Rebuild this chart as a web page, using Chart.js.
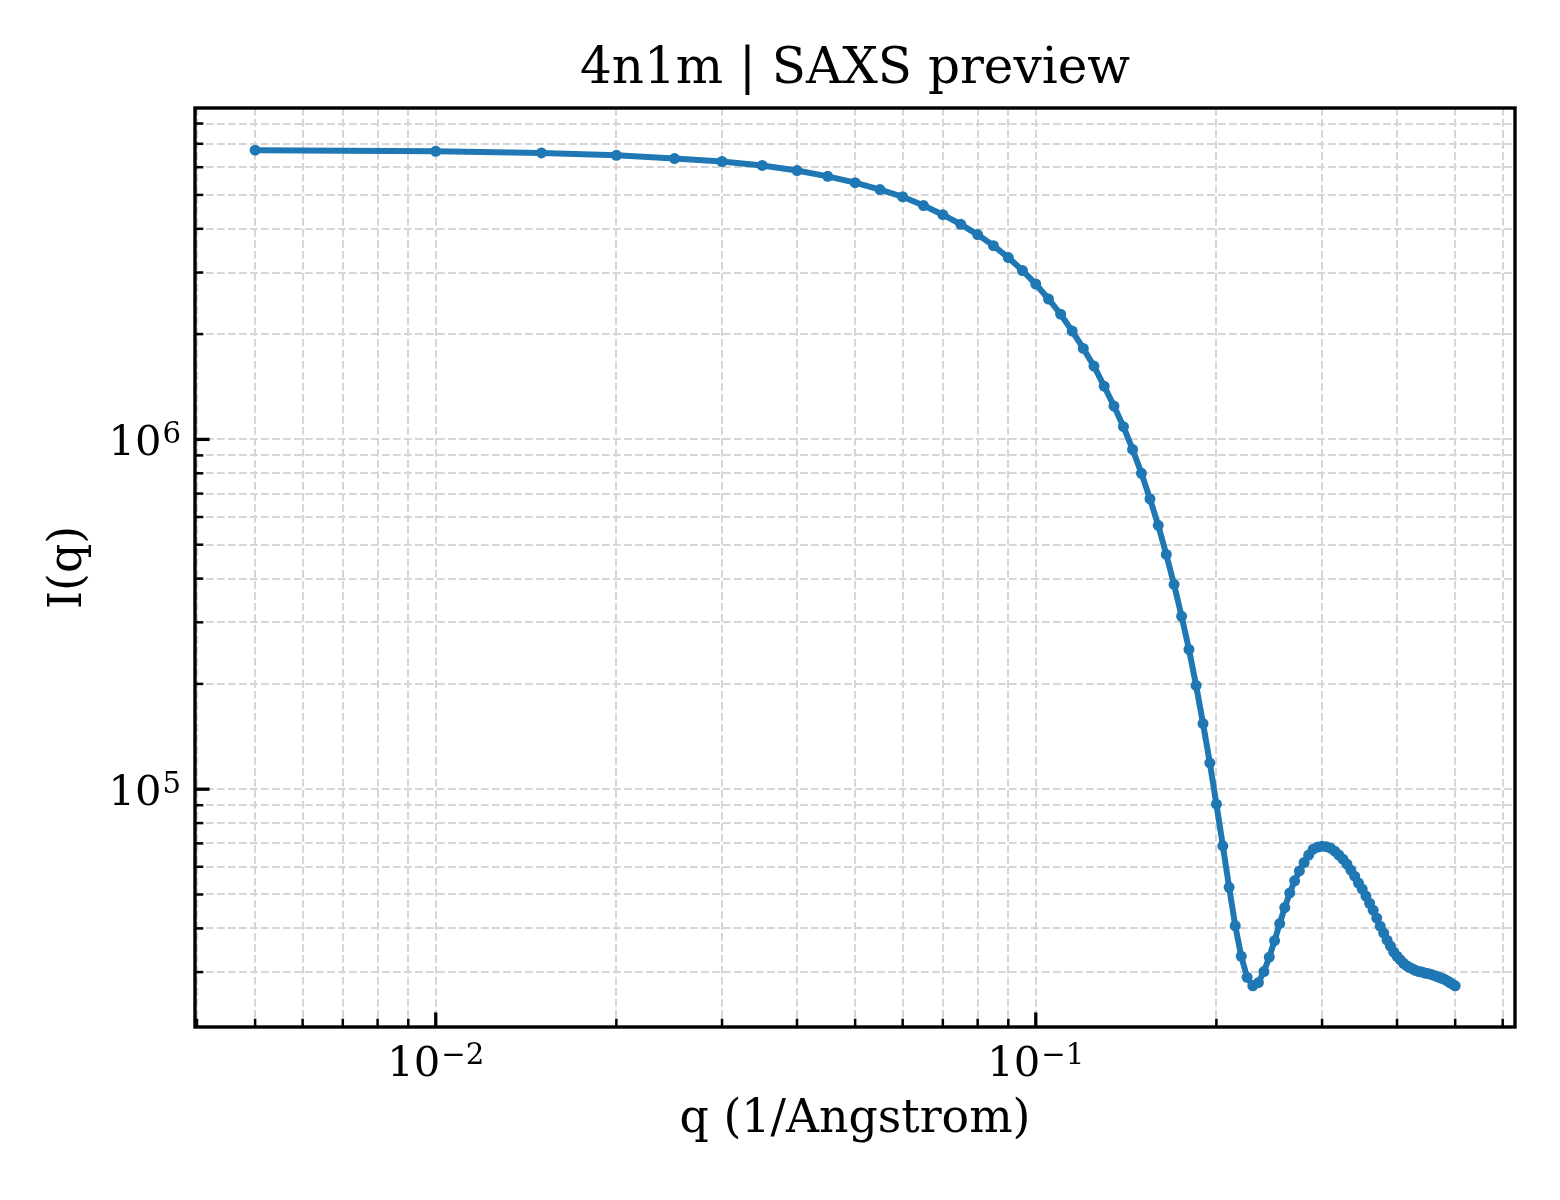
<!DOCTYPE html>
<html>
<head>
<meta charset="utf-8">
<script src="https://cdn.jsdelivr.net/npm/chart.js@4.4.1/dist/chart.umd.min.js"></script>
<style>
  html, body { margin: 0; padding: 0; background: #fff; }
  canvas { display: block; }
</style>
</head>
<body>
<canvas id="saxs" width="1560" height="1200"></canvas>
<script>
// q (1/Angstrom) sampled every 0.005
const qValues = [
  0.005, 0.010, 0.015, 0.020, 0.025, 0.030, 0.035, 0.040, 0.045, 0.050,
  0.055, 0.060, 0.065, 0.070, 0.075, 0.080, 0.085, 0.090, 0.095, 0.100,
  0.105, 0.110, 0.115, 0.120, 0.125, 0.130, 0.135, 0.140, 0.145, 0.150,
  0.155, 0.160, 0.165, 0.170, 0.175, 0.180, 0.185, 0.190, 0.195, 0.200,
  0.205, 0.210, 0.215, 0.220, 0.225, 0.230, 0.235, 0.240, 0.245, 0.250,
  0.255, 0.260, 0.265, 0.270, 0.275, 0.280, 0.285, 0.290, 0.295, 0.300,
  0.305, 0.310, 0.315, 0.320, 0.325, 0.330, 0.335, 0.340, 0.345, 0.350,
  0.355, 0.360, 0.365, 0.370, 0.375, 0.380, 0.385, 0.390, 0.395, 0.400,
  0.405, 0.410, 0.415, 0.420, 0.425, 0.430, 0.435, 0.440, 0.445, 0.450,
  0.455, 0.460, 0.465, 0.470, 0.475, 0.480, 0.485, 0.490, 0.495, 0.500
];

// I(q)
const intensity = [
  6.71e6, 6.66e6, 6.59e6, 6.49e6, 6.35e6, 6.23e6, 6.07e6, 5.87e6, 5.65e6, 5.42e6,
  5.18e6, 4.94e6, 4.66e6, 4.39e6, 4.12e6, 3.85e6, 3.58e6, 3.31e6, 3.04e6, 2.78e6,
  2.52e6, 2.28e6, 2.04e6, 1.82e6, 1.62e6, 1.42e6, 1.245e6, 1.087e6, 9.36e5, 8.00e5,
  6.76e5, 5.68e5, 4.69e5, 3.85e5, 3.12e5, 2.51e5, 1.98e5, 1.54e5, 1.19e5, 9.06e4,
  6.89e4, 5.24e4, 4.07e4, 3.33e4, 2.90e4, 2.74e4, 2.80e4, 3.01e4, 3.31e4, 3.69e4,
  4.13e4, 4.59e4, 5.05e4, 5.47e4, 5.84e4, 6.17e4, 6.48e4, 6.74e4, 6.83e4, 6.87e4,
  6.85e4, 6.78e4, 6.65e4, 6.48e4, 6.31e4, 6.11e4, 5.87e4, 5.64e4, 5.39e4, 5.18e4,
  4.95e4, 4.72e4, 4.51e4, 4.28e4, 4.06e4, 3.88e4, 3.70e4, 3.56e4, 3.42e4, 3.33e4,
  3.25e4, 3.18e4, 3.13e4, 3.09e4, 3.06e4, 3.03e4, 3.01e4, 3.00e4, 2.98e4, 2.97e4,
  2.96e4, 2.94e4, 2.92e4, 2.90e4, 2.88e4, 2.86e4, 2.83e4, 2.80e4, 2.77e4, 2.74e4
];

// tick positions; decade labels are base + exponent
const xTickValues = [0.004, 0.005, 0.006, 0.007, 0.008, 0.009,
  0.01, 0.02, 0.03, 0.04, 0.05, 0.06, 0.07, 0.08, 0.09,
  0.1, 0.2, 0.3, 0.4, 0.5, 0.6];
const xMajorTicks = [0.01, 0.1];
const xMajorExponents = ["−2", "−1"];

const yTickValues = [3e4, 4e4, 5e4, 6e4, 7e4, 8e4, 9e4,
  1e5, 2e5, 3e5, 4e5, 5e5, 6e5, 7e5, 8e5, 9e5,
  1e6, 2e6, 3e6, 4e6, 5e6, 6e6, 7e6, 8e6];
const yMajorTicks = [1e5, 1e6];
const yMajorExponents = ["5", "6"];

const titleText = "4n1m | SAXS preview";

const serif = "'DejaVu Serif', 'Liberation Serif', serif";
const lineBlue = "#1f77b4";

function setTicks(values, majors) {
  return scale => {
    scale.ticks = values.map(v => ({ value: v, major: majors.includes(v) }));
  };
}

// "10" with a raised exponent, like matplotlib mathtext
function drawPower(ctx, exp, xPos, baseline, align) {
  ctx.font = "41.7px " + serif;
  const wBase = ctx.measureText("10").width;
  ctx.font = "29.2px " + serif;
  const wExp = ctx.measureText(exp).width;
  const total = wBase + wExp + 1;
  let x0 = align === "right" ? xPos - total : xPos - total / 2;
  ctx.textAlign = "left";
  ctx.textBaseline = "alphabetic";
  ctx.font = "41.7px " + serif;
  ctx.fillText("10", x0, baseline);
  ctx.font = "29.2px " + serif;
  ctx.fillText(exp, x0 + wBase + 1, baseline - 12);
}

// matplotlib style: inward ticks on left/bottom, full box, title over the axes
const axesFrame = {
  id: "axesFrame",
  afterDraw(chart) {
    const { ctx, chartArea: a } = chart;
    const x = chart.scales.x, y = chart.scales.y;
    ctx.save();
    ctx.strokeStyle = "#000";
    ctx.fillStyle = "#000";
    x.ticks.forEach(t => {
      const px = x.getPixelForValue(t.value);
      ctx.lineWidth = t.major ? 3.3 : 2.5;
      ctx.beginPath();
      ctx.moveTo(px, a.bottom);
      ctx.lineTo(px, a.bottom - (t.major ? 14.6 : 8.3));
      ctx.stroke();
      const i = xMajorTicks.indexOf(t.value);
      if (i >= 0) drawPower(ctx, xMajorExponents[i], px, a.bottom + 49, "center");
    });
    y.ticks.forEach(t => {
      const py = y.getPixelForValue(t.value);
      ctx.lineWidth = t.major ? 3.3 : 2.5;
      ctx.beginPath();
      ctx.moveTo(a.left, py);
      ctx.lineTo(a.left + (t.major ? 14.6 : 8.3), py);
      ctx.stroke();
      const i = yMajorTicks.indexOf(t.value);
      if (i >= 0) drawPower(ctx, yMajorExponents[i], a.left - 14, py + 16, "right");
    });
    ctx.lineWidth = 3.4;
    ctx.strokeRect(a.left, a.top, a.right - a.left, a.bottom - a.top);

    ctx.font = "50px " + serif;
    ctx.textAlign = "center";
    ctx.textBaseline = "alphabetic";
    ctx.fillText(titleText, (a.left + a.right) / 2, 83);
    ctx.restore();
  }
};

const ctx = document.getElementById("saxs").getContext("2d");
new Chart(ctx, {
  type: "line",
  data: {
    datasets: [{
      data: qValues.map((q, i) => ({ x: q, y: intensity[i] })),
      borderColor: lineBlue,
      backgroundColor: lineBlue,
      borderWidth: 6,
      pointRadius: 5.5,
      pointBorderWidth: 0,
      pointBackgroundColor: lineBlue,
      tension: 0,
      fill: false
    }]
  },
  options: {
    responsive: false,
    devicePixelRatio: 1,
    animation: false,
    layout: { padding: { left: 0, right: 45, top: 108, bottom: 0 } },
    plugins: {
      legend: { display: false },
      tooltip: { enabled: false },
      title: { display: false }
    },
    scales: {
      x: {
        type: "logarithmic",
        min: 0.00397,
        max: 0.629,
        afterBuildTicks: setTicks(xTickValues, xMajorTicks),
        afterFit: scale => { scale.height = 173; },
        ticks: { display: false, autoSkip: false },
        grid: { color: "#d6d6d6", lineWidth: 2, drawTicks: false },
        border: { display: false, dash: [7.7, 3.3] },
        title: {
          display: true,
          text: "q (1/Angstrom)",
          color: "#000",
          font: { family: serif, size: 45.8, lineHeight: 1.2 },
          padding: { top: 0, bottom: 52 }
        }
      },
      y: {
        type: "logarithmic",
        min: 2.09e4,
        max: 8.86e6,
        afterBuildTicks: setTicks(yTickValues, yMajorTicks),
        afterFit: scale => { scale.width = 195; },
        ticks: { display: false, autoSkip: false },
        grid: { color: "#d6d6d6", lineWidth: 2, drawTicks: false },
        border: { display: false, dash: [7.7, 3.3] },
        title: {
          display: true,
          text: "I(q)",
          color: "#000",
          font: { family: serif, size: 45.8, lineHeight: 1.2 },
          padding: { top: 42, bottom: 0 }
        }
      }
    }
  },
  plugins: [axesFrame]
});
</script>
</body>
</html>
